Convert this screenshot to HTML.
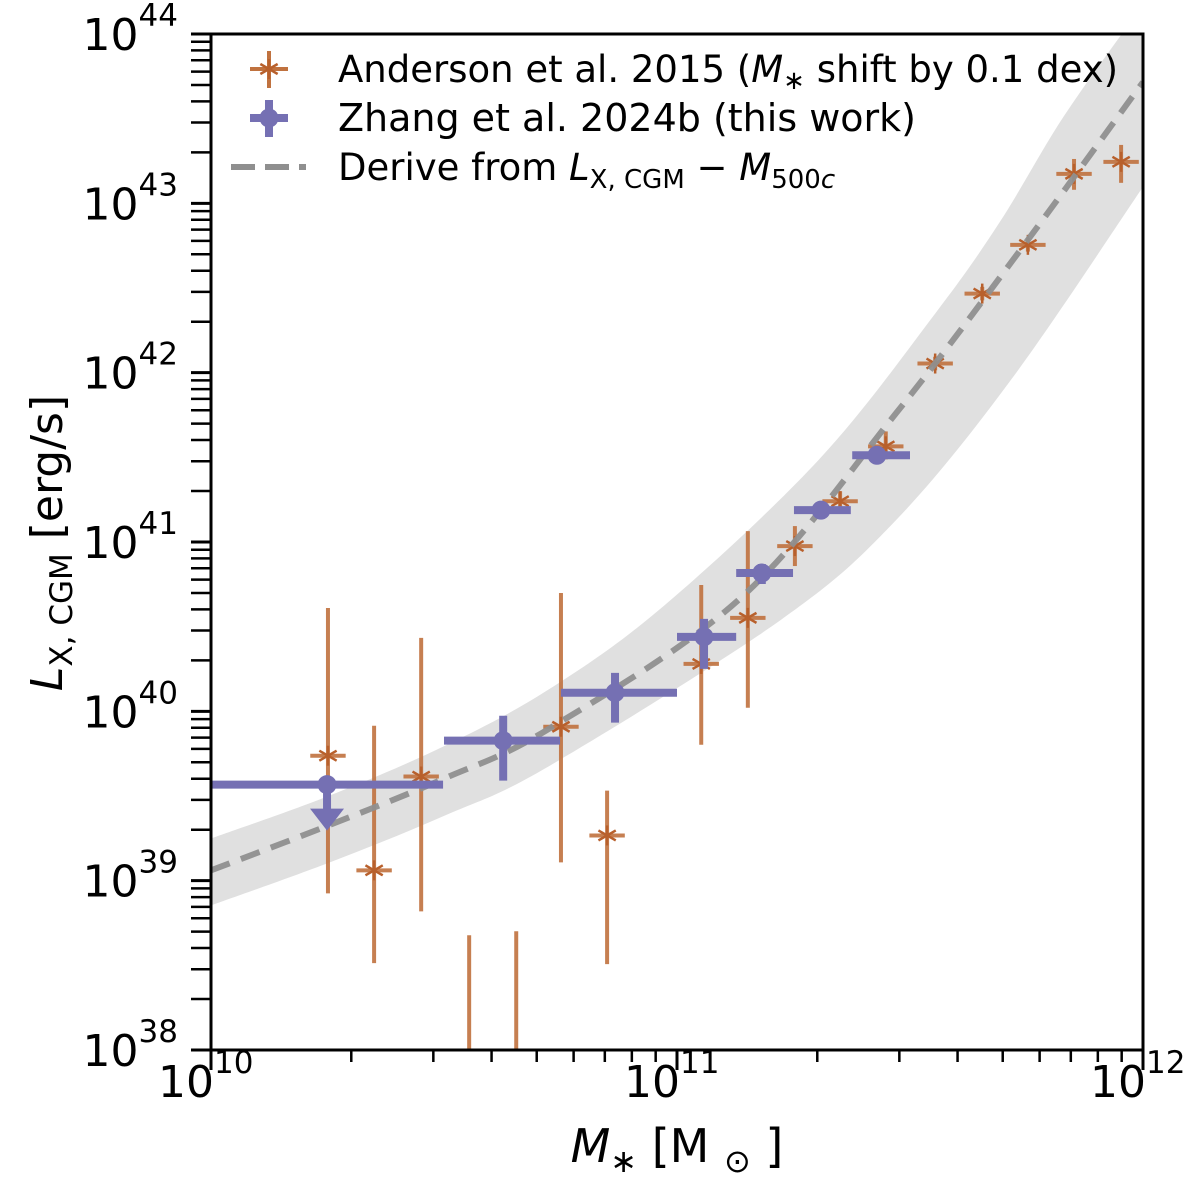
<!DOCTYPE html>
<html><head><meta charset="utf-8"><style>
html,body{margin:0;padding:0;background:#fff}
svg{display:block;font-family:"DejaVu Sans","Liberation Sans",sans-serif}
</style></head><body>
<svg id="chart" width="1200" height="1180" viewBox="0 0 1200 1180" xmlns="http://www.w3.org/2000/svg">
<defs><clipPath id="clip"><rect x="211" y="34" width="932" height="1016"/></clipPath></defs>
<g id="plot" clip-path="url(#clip)"></g>
<g id="axes"></g>
<g id="legend"></g>
</svg>
<script>
// ---- data (log10 units) ----
const andLogM = [10.251,10.350,10.451,10.554,10.655,10.751,10.850,11.052,11.152,11.253,11.350,11.448,11.554,11.655,11.753,11.852,11.953];
const andLogL = [39.738,39.061,39.615,null,null,39.909,39.267,40.280,40.552,40.976,41.241,41.565,42.054,42.467,42.755,43.174,43.245];
const andLo   = [38.925,38.513,38.819,37.0,37.0,39.108,38.507,39.803,40.021,40.858,41.170,41.488,42.014,42.427,42.715,43.080,43.121];
const andHi   = [40.610,39.915,40.434,38.678,38.701,40.699,39.532,40.746,41.064,41.094,41.300,41.653,42.094,42.507,42.795,43.262,43.345];
const andXerr = 0.038;

const zhLogM = [10.249,10.627,10.867,11.058,11.182,11.309,11.429];
const zhMlo  = [10.0,10.5,10.751,11.0,11.127,11.251,11.376];
const zhMhi  = [10.498,10.749,11.0,11.127,11.249,11.373,11.5];
const zhLogL = [39.567,39.827,40.110,40.440,40.817,41.188,41.512];
const zhLo   = [null,39.591,39.933,40.251,40.752,41.150,41.480];
const zhHi   = [null,39.974,40.227,40.546,40.870,41.225,41.545];
const zhUpperLimit = [true,false,false,false,false,false,false];

const curveM = [10.0,10.251,10.502,10.727,11.139,11.470,11.734,12.0];
const curveL = [39.061,39.325,39.605,39.900,40.675,41.760,42.714,43.716];
const bandUpM = [10.0,10.255,10.502,10.727,10.974,11.305,11.554,11.693,11.822,11.951,12.0];
const bandUpL = [39.249,39.503,39.797,40.133,40.628,41.488,42.349,42.891,43.480,43.987,44.158];
const bandLoM = [10.0,10.255,10.502,10.727,11.223,11.470,11.719,12.0];
const bandLoL = [38.854,39.108,39.385,39.679,40.540,41.129,41.966,43.097];

const xTickExp = [10,11,12];
const yTickExp = [38,39,40,41,42,43,44];

// ---- axes ----
const X0=211,X1=1143,Y0=1050,Y1=34;
const sx = v => X0 + (v-10)/(12-10)*(X1-X0);
const sy = v => Y0 - (v-38)/(44-38)*(Y0-Y1);
const NS="http://www.w3.org/2000/svg";
function mk(tag, attrs, parent){const e=document.createElementNS(NS,tag);for(const k in attrs)e.setAttribute(k,attrs[k]);parent.appendChild(e);return e;}
function smooth(pts, start){
  let d=(start?"M":"L")+pts[0][0]+","+pts[0][1];
  for(let i=0;i<pts.length-1;i++){
    const p0=pts[Math.max(0,i-1)],p1=pts[i],p2=pts[i+1],p3=pts[Math.min(pts.length-1,i+2)];
    const c1=[p1[0]+(p2[0]-p0[0])/6,p1[1]+(p2[1]-p0[1])/6];
    const c2=[p2[0]-(p3[0]-p1[0])/6,p2[1]-(p3[1]-p1[1])/6];
    d+="C"+c1+" "+c2+" "+p2;
  }
  return d;
}
const plot=document.getElementById('plot'), axes=document.getElementById('axes'), legend=document.getElementById('legend');
const OR="#c0723f", PU="#7570b3";

// band
const up=bandUpM.map((m,i)=>[sx(m),sy(bandUpL[i])]);
const lo=bandLoM.map((m,i)=>[sx(m),sy(bandLoL[i])]).reverse();
const band=mk('path',{d:smooth(up,true)+smooth(lo,false)+"Z",fill:"#e0e0e0"},plot);



// Anderson
andLogM.forEach((m,i)=>{
  const g=mk('g',{},plot);
  
  
  mk('line',{x1:sx(m),x2:sx(m),y1:sy(andLo[i]),y2:sy(andHi[i]),stroke:OR,'stroke-width':4,opacity:0.9},g);
  if(andLogL[i]!==null){
    const y=sy(andLogL[i]);
    mk('line',{x1:sx(m-andXerr),x2:sx(m+andXerr),y1:y,y2:y,stroke:OR,'stroke-width':4,opacity:0.9},g);
    const cx=sx(m),r=10;
    for(const a of [0,60,120]){const t=a*Math.PI/180+Math.PI/2;
      mk('line',{x1:cx-r*Math.cos(t),y1:y-r*Math.sin(t),x2:cx+r*Math.cos(t),y2:y+r*Math.sin(t),stroke:"#b8602c",'stroke-width':2.5},g);}
  }
});

// curve
const cur=mk('path',{d:smooth(curveM.map((m,i)=>[sx(m),sy(curveL[i])]),true),fill:"none",stroke:"#8f8f8f",'stroke-width':6,'stroke-dasharray':"20,12",opacity:0.95},plot);



// Zhang
zhLogM.forEach((m,i)=>{
  const g=mk('g',{},plot);
  
  
  const x=sx(m),y=sy(zhLogL[i]);
  mk('line',{x1:sx(zhMlo[i]),x2:sx(zhMhi[i]),y1:y,y2:y,stroke:PU,'stroke-width':8},g);
  if(zhUpperLimit[i]){
    mk('line',{x1:x,x2:x,y1:y,y2:y+28,stroke:PU,'stroke-width':8},g);
    mk('path',{d:`M${x-17},${y+24}L${x+17},${y+24}L${x},${y+46}Z`,fill:PU},g);
  } else {
    mk('line',{x1:x,x2:x,y1:sy(zhLo[i]),y2:sy(zhHi[i]),stroke:PU,'stroke-width':8},g);
  }
  mk('circle',{cx:x,cy:y,r:9.5,fill:PU},g);
});

// frame
mk('rect',{x:X0,y:Y1,width:X1-X0,height:Y0-Y1,fill:"none",stroke:"#000",'stroke-width':3},axes);
// y ticks
yTickExp.forEach((e,k)=>{
  const y=sy(e);
  mk('line',{x1:X0-20,x2:X0,y1:y,y2:y,stroke:"#000",'stroke-width':3},axes);
  const t=mk('text',{x:178,y:y+16,'text-anchor':"end",'font-size':44,fill:"#000"},axes);
  
  
  t.innerHTML='10<tspan dy="-24" font-size="31">'+e+'</tspan>';
  if(k<yTickExp.length-1) for(let j=2;j<=9;j++){const yy=sy(e+Math.log10(j));
    mk('line',{x1:X0-20,x2:X0,y1:yy,y2:yy,stroke:"#000",'stroke-width':2.5},axes);}
});
// x ticks
xTickExp.forEach((e,k)=>{
  const x=sx(e);
  mk('line',{x1:x,x2:x,y1:Y0,y2:Y0+20,stroke:"#000",'stroke-width':3},axes);
  const t=mk('text',{x:x-53,y:1097,'text-anchor':"start",'font-size':44,fill:"#000"},axes);
  
  
  t.innerHTML='10<tspan dy="-24" font-size="31">'+e+'</tspan>';
  if(k<xTickExp.length-1) for(let j=2;j<=9;j++){const xx=sx(e+Math.log10(j));
    mk('line',{x1:xx,x2:xx,y1:Y0,y2:Y0+12,stroke:"#000",'stroke-width':2.5},axes);}
});
// axis titles
const xt=mk('text',{x:677,y:1162,'text-anchor':"middle",'font-size':46,fill:"#000"},axes);


xt.innerHTML='<tspan font-style="italic">M</tspan><tspan font-size="32" dy="10">∗</tspan><tspan dy="-10"> [M </tspan><tspan font-size="32" dy="10">⊙</tspan><tspan dy="-10"> ]</tspan>';
const yt=mk('text',{x:0,y:0,'text-anchor':"middle",'font-size':44,fill:"#000",transform:"translate(62,543) rotate(-90)"},axes);


yt.innerHTML='<tspan font-style="italic">L</tspan><tspan font-size="31" dy="10">X,  CGM</tspan><tspan dy="-10"> [erg/s]</tspan>';

// legend
const l1=mk('g',{},legend);


mk('line',{x1:250,x2:288,y1:69,y2:69,stroke:OR,'stroke-width':4},l1);
mk('line',{x1:269,x2:269,y1:51,y2:88,stroke:OR,'stroke-width':4},l1);
for(const a of [0,60,120]){const t=a*Math.PI/180+Math.PI/2;
  mk('line',{x1:269-10*Math.cos(t),y1:69-10*Math.sin(t),x2:269+10*Math.cos(t),y2:69+10*Math.sin(t),stroke:"#b8602c",'stroke-width':2.5},l1);}
const lt1=mk('text',{x:338,y:82,'font-size':37,fill:"#000"},l1);
lt1.innerHTML='Anderson et al. 2015 (<tspan font-style="italic">M</tspan><tspan font-size="26" dy="7">∗</tspan><tspan dy="-7"> shift by 0.1 dex)</tspan>';
const l2=mk('g',{},legend);


mk('line',{x1:250,x2:288,y1:118,y2:118,stroke:PU,'stroke-width':8},l2);
mk('line',{x1:269,x2:269,y1:100,y2:137,stroke:PU,'stroke-width':8},l2);
mk('circle',{cx:269,cy:118,r:9.5,fill:PU},l2);
const lt2=mk('text',{x:338,y:131,'font-size':38,fill:"#000"},l2);
lt2.textContent='Zhang et al. 2024b (this work)';
const l3=mk('g',{},legend);


mk('line',{x1:231,x2:306,y1:167,y2:167,stroke:"#8f8f8f",'stroke-width':6,'stroke-dasharray':"24,10"},l3);
const lt3=mk('text',{x:338,y:180,'font-size':37,fill:"#000"},l3);
lt3.innerHTML='Derive from <tspan font-style="italic">L</tspan><tspan font-size="26" dy="8">X, CGM</tspan><tspan dy="-8"> − </tspan><tspan font-style="italic">M</tspan><tspan font-size="26" dy="8">500</tspan><tspan font-size="26" font-style="italic">c</tspan>';
</script>
</body></html>
